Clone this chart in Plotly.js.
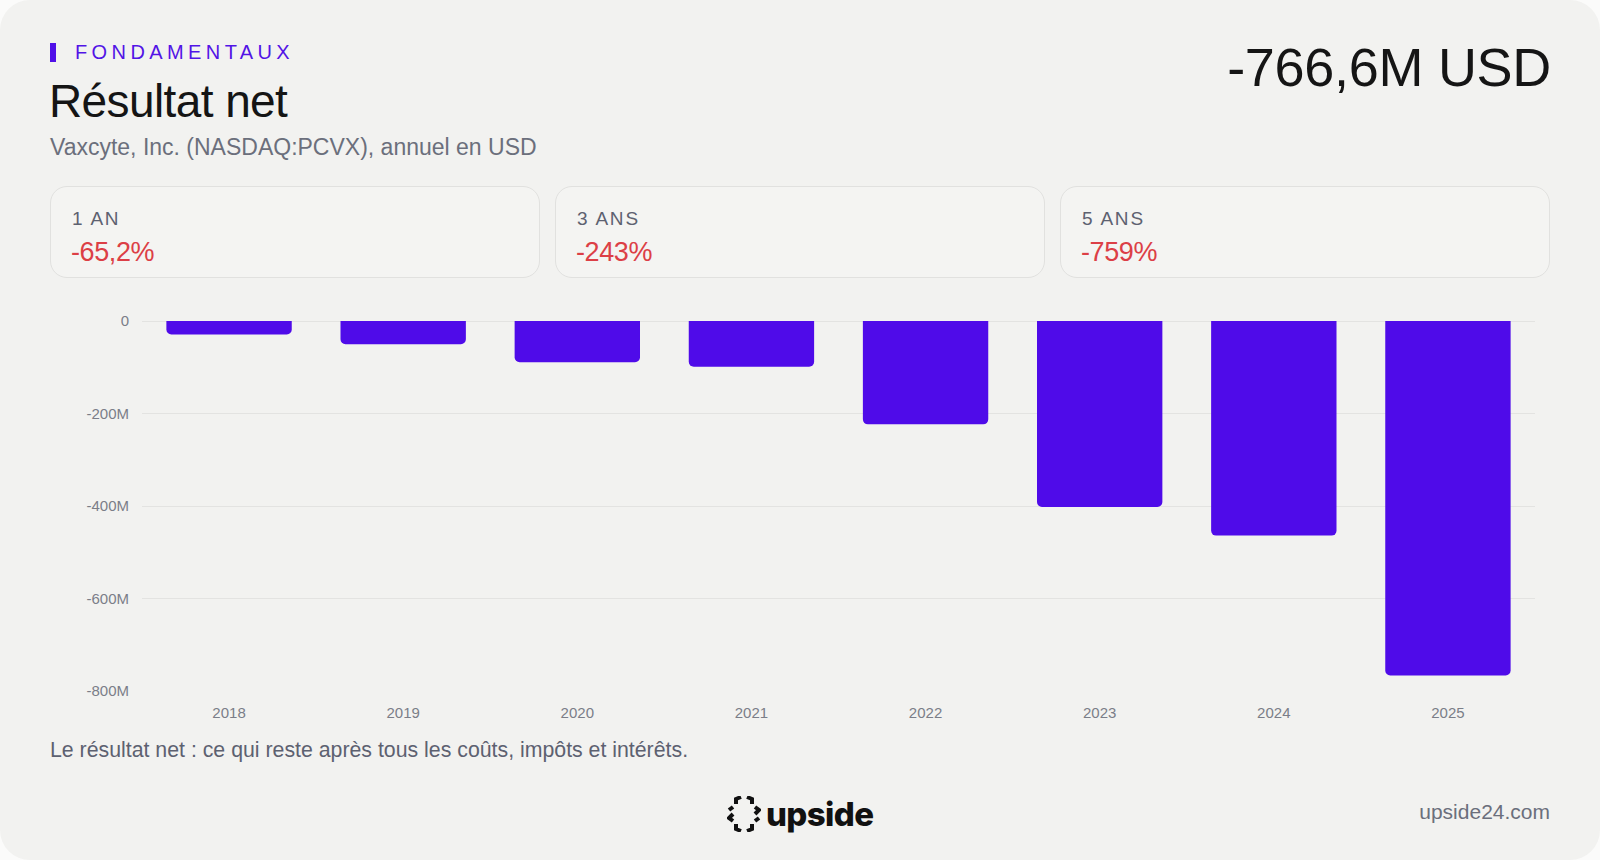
<!DOCTYPE html>
<html>
<head>
<meta charset="utf-8">
<script src="https://cdn.plot.ly/plotly-3.0.1.min.js"></script>
<style>
  html, body { margin: 0; padding: 0; width: 1600px; height: 860px; background: #fbfbfa; overflow: hidden; }
  body { font-family: "Liberation Sans", Arial, Helvetica, sans-serif; }
  #frame { position: absolute; left: 0; top: 0; width: 1600px; height: 860px; background: #f2f2f0; border-radius: 30px; }
  .abs { position: absolute; white-space: nowrap; line-height: 1; }
  #accent { position: absolute; left: 50px; top: 43px; width: 6px; height: 19px; background: #5010e8; }
  #kicker { left: 75px; top: 42px; font-size: 20px; letter-spacing: 4.4px; color: #5214e6; }
  #title { left: 49px; top: 78px; font-size: 46px; letter-spacing: -0.6px; color: #151515; }
  #subtitle { left: 50px; top: 136px; font-size: 23px; color: #6b6f7c; }
  #bigval { right: 49px; top: 40px; font-size: 54px; color: #151515; letter-spacing: -0.3px; }
  .card { position: absolute; top: 186px; width: 488px; height: 90px; border: 1.5px solid #e1e1df; border-radius: 17px; background: #f4f4f2; }
  .card .lbl { position: absolute; left: 21px; top: 22px; font-size: 19px; letter-spacing: 1.8px; color: #5d6170; line-height: 1; white-space: nowrap; }
  .card .val { position: absolute; left: 20px; top: 52px; font-size: 27px; color: #dc3f46; line-height: 1; white-space: nowrap; letter-spacing: -0.4px; }
  #chart { position: absolute; left: 0; top: 290px; width: 1600px; height: 440px; }
  #note { left: 50px; top: 740px; font-size: 21.3px; color: #5d6170; }
  #site { right: 50px; top: 801px; font-size: 21px; color: #6b6f7c; }
  #logo { position: absolute; left: 727px; top: 795px; height: 38px; display: flex; align-items: center; }
  #logo .word { font-family: Inter, "Liberation Sans", Arial, sans-serif; font-weight: 800; font-size: 33px; color: #111; letter-spacing: -0.6px; margin-left: 5px; line-height: 1; }
</style>
</head>
<body>
<div id="frame"></div>
<div id="accent"></div>
<div id="kicker" class="abs">FONDAMENTAUX</div>
<div id="title" class="abs">Résultat net</div>
<div id="subtitle" class="abs">Vaxcyte, Inc. (NASDAQ:PCVX), annuel en USD</div>
<div id="bigval" class="abs">-766,6M USD</div>

<div class="card" style="left:50px"><div class="lbl" id="l0"></div><div class="val" id="v0"></div></div>
<div class="card" style="left:555px"><div class="lbl" id="l1"></div><div class="val" id="v1"></div></div>
<div class="card" style="left:1060px"><div class="lbl" id="l2"></div><div class="val" id="v2"></div></div>

<div id="chart"></div>

<div id="note" class="abs">Le résultat net : ce qui reste après tous les coûts, impôts et intérêts.</div>
<div id="logo">
  <svg width="34" height="36" viewBox="0 0 34 36">
    <g fill="none" stroke="#111" stroke-width="4" stroke-linejoin="miter" stroke-linecap="butt">
      <polyline points="9,8 9,3 14,1" />
      <polyline points="20,1 25,3 25,8" />
      <polyline points="28,11 32,14 28,18" />
      <polyline points="25,28 25,33 20,35" />
      <polyline points="14,35 9,33 9,28" />
      <polyline points="6,18 2,22 6,25" />
      <polyline points="6,11 2,14" />
      <polyline points="32,22 28,25" />
    </g>
  </svg>
  <span class="word">upside</span>
</div>
<div id="site" class="abs">upside24.com</div>

<script>
const years = ["2018", "2019", "2020", "2021", "2022", "2023", "2024", "2025"];
const netIncomeM = [-29.0, -50.0, -89.2, -99.0, -223.5, -402.0, -464.0, -766.6];
const yTickVals = [0, -200, -400, -600, -800];
const yTickText = ["0", "-200M", "-400M", "-600M", "-800M"];
const periodLabels = ["1 AN", "3 ANS", "5 ANS"];
const periodChanges = ["-65,2%", "-243%", "-759%"];

periodLabels.forEach((t, i) => {
  document.getElementById("l" + i).textContent = t;
  document.getElementById("v" + i).textContent = periodChanges[i];
});

const trace = {
  type: "bar",
  x: years,
  y: netIncomeM,
  marker: { color: "#4f0be9", cornerradius: 5, line: { width: 0 } },
  hoverinfo: "skip"
};

const layout = {
  width: 1600,
  height: 440,
  margin: { l: 142, r: 65, t: 31, b: 39 },
  paper_bgcolor: "rgba(0,0,0,0)",
  plot_bgcolor: "rgba(0,0,0,0)",
  bargap: 0.28,
  showlegend: false,
  font: { family: "Liberation Sans, Arial, sans-serif" },
  xaxis: {
    type: "category",
    showgrid: false,
    showline: false,
    zeroline: false,
    ticks: "",
    tickfont: { size: 15, color: "#7b7e88" },
    ticklabelstandoff: 11
  },
  yaxis: {
    range: [-800, 0],
    tickvals: yTickVals,
    ticktext: yTickText,
    showgrid: true,
    gridcolor: "#e3e3e1",
    gridwidth: 1,
    zeroline: true,
    zerolinecolor: "#e3e3e1",
    zerolinewidth: 1,
    showline: false,
    ticks: "",
    tickfont: { size: 15, color: "#7b7e88" },
    ticklabelstandoff: 12
  }
};

Plotly.newPlot("chart", [trace], layout, { displayModeBar: false, staticPlot: true });
</script>
</body>
</html>
